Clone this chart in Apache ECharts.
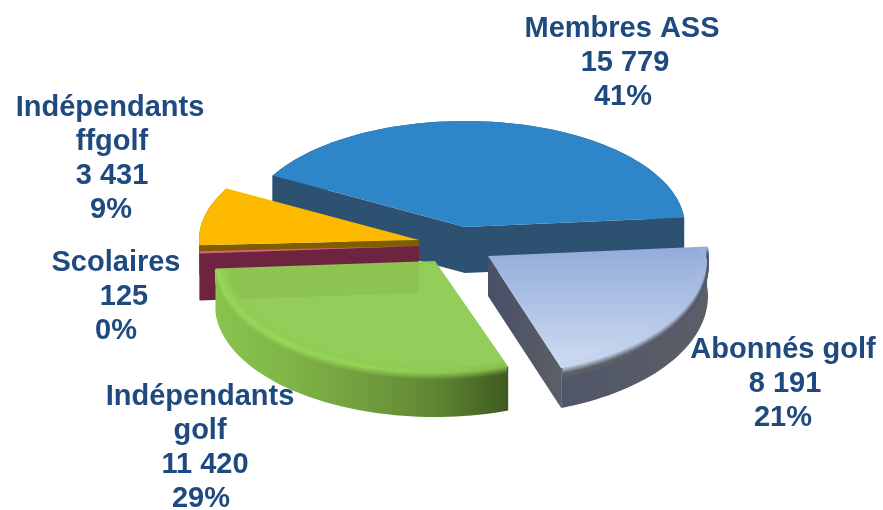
<!DOCTYPE html>
<html><head><meta charset="utf-8">
<style>html,body{margin:0;padding:0;background:#fff}#c{width:883px;height:510px}</style>
<script src="https://cdn.jsdelivr.net/npm/echarts@6/dist/echarts.min.js"></script>
</head><body><div id="c"></div>
<script>
const categories = ['Membres ASS','Abonnés golf','Indépendants\ngolf','Scolaires','Indépendants\nffgolf'];
const values = [15779, 8191, 11420, 125, 3431];

// layout, separate from the data
const RX = 220, RY_BACK = 106, RY_FRONT = 112, START = -151;
const apex = [[465,227,46,1],[488,256,40,1.06],[435,261,44,1],[419,246,47,1],[419,240,30,1]]; // x, y, depth, front stretch
const drawOrder = [1,5,4,3,2];
const labelAt = [[622,29],[783,350],[200,397],[116,263],[110,108]];
const lineNudge = [[0,3,1],[0,2,0],[0,0,5,1],[0,8,0],[0,2,2,1]];
const LINE = 34;
const looks = [
 {top:['#2e86c8','#2e86c8'], wall:['#2d5170','#2d5170'], cut:'#2d5170'},
 {top:['#93abda','#cfdcf1'], wall:['#50566a','#5c5f66'], cut:['#484f66','#5c5f66'],
  bevel:9, rim:['#96aedb','#c9d7ef'], rimV:true},
 {top:['#8fcb52','#8fcb52'], wall:['#88c44e','#7fb548','#739f3e','#5f8633','#3f5a20'],
  bevel:10, rim:['#96d858','#96d858','#94d456','#90cc54','#86b84c']},
 {top:['#d9607f','#d9607f'], wall:['#6e2440','#6e2440'], cut:'#6e2440'},
 {top:['#fdb900','#fdb900'], wall:['#7d5f00','#7d5f00'], cut:'#7d5f00'}
];

const total = values.reduce((a,b)=>a+b,0);
const fmt = v => String(v).replace(/\B(?=(\d{3})+$)/g,' ');
const G = () => echarts.graphic;
function grad(stops, vertical){
  const n = stops.length-1;
  return new (G().LinearGradient)(0,0,vertical?0:1,vertical?1:0,
    stops.map((c,i)=>({offset:n?i/n:0,color:c})));
}
function mix(a,b,t){
  const p=c=>[1,3,5].map(i=>parseInt(c.substr(i,2),16));
  const A=p(a),B=p(b);
  return '#'+A.map((v,i)=>Math.round(v+(B[i]-v)*t).toString(16).padStart(2,'0')).join('');
}
function pt(o,deg,scale,dy){
  const r=deg*Math.PI/180, s=Math.sin(r);
  return [o[0]+RX*scale*Math.cos(r), o[1]+(s<0?RY_BACK:RY_FRONT*o[3])*scale*s+(dy||0)];
}
function arc(o,a,b,scale,dy){
  const out=[], n=Math.max(2,Math.ceil(Math.abs(b-a)/2));
  for(let i=0;i<=n;i++) out.push(pt(o,a+(b-a)*i/n,scale,dy));
  return out;
}
function renderItem(params, api){
  const i = params.dataIndex, v = api.value(0);
  let a = START;
  for(let k=0;k<i;k++) a += values[k]/total*360;
  const b = a + v/total*360;
  const o = apex[i], d = o[2], L = looks[i], z = drawOrder[i]*100;
  const kids = [];
  kids.push({type:'polygon',z2:z+1,shape:{points:arc(o,a,b,1,0).concat(arc(o,b,a,1,d))},
    style:{fill:grad(L.wall,false)}});
  if(L.cut){
    const f = Array.isArray(L.cut)?grad(L.cut,false):L.cut;
    const top=[o[0],o[1]], bot=[o[0],o[1]+d];
    if(Math.cos(a*Math.PI/180)<0)
      kids.push({type:'polygon',z2:z+2,shape:{points:[top,pt(o,a,1,0),pt(o,a,1,d),bot]},style:{fill:f}});
    if(Math.cos(b*Math.PI/180)>0)
      kids.push({type:'polygon',z2:z+2,shape:{points:[top,pt(o,b,1,0),pt(o,b,1,d),bot]},style:{fill:f}});
  }
  kids.push({type:'polygon',z2:z+3,shape:{points:[[o[0],o[1]]].concat(arc(o,a,b,1,0))},
    style:{fill:grad(L.top,true),opacity:L.bevel&&!L.rimV?0.96:1}});
  if(L.bevel){
    const N=2*L.bevel;
    for(let k=0;k<=N;k++){
      const t=k/N*2-1;
      const scale=1-Math.max(0,-t)*L.bevel/RX, dy=Math.max(0,t)*L.bevel;
      const w=L.wall, r=L.rim;
      const stops=r.map((c,j)=>{
        const wc=w[Math.round(j/(r.length-1)*(w.length-1))];
        const topc=L.rimV?c:L.top[0];
        return t<0?mix(topc,c,1+t):mix(c,wc,Math.min(1,t*1.4));
      });
      kids.push({type:'polyline',z2:z+4,shape:{points:arc(o,a+0.4,b-0.4,scale,dy)},
        style:{fill:null,lineWidth:1.6,stroke:grad(stops,!!L.rimV)}});
    }
  }
  const lines=(categories[i]+'\n'+fmt(v)+'\n'+Math.round(v/total*100)+'%').split('\n');
  lines.forEach((t,k)=>kids.push({type:'text',z2:1000,
    x:labelAt[i][0]+lineNudge[i][k],y:labelAt[i][1]+k*LINE,
    style:{text:t,fontFamily:'"Liberation Sans",Arial,sans-serif',fontWeight:'bold',fontSize:29,
      fill:'#1f4a80',align:'center',verticalAlign:'middle'}}));
  return {type:'group',children:kids};
}
const chart = echarts.init(document.getElementById('c'),null,{renderer:'canvas'});
chart.setOption({
  animation:false,
  backgroundColor:'#fff',
  series:[{type:'custom',coordinateSystem:'none',renderItem,data:values.map(v=>[v]),silent:true}]
});
</script></body></html>
